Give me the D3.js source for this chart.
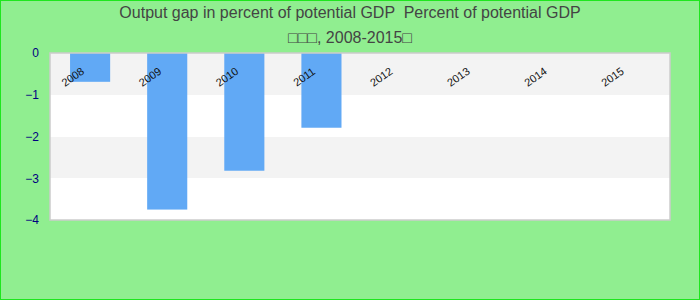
<!DOCTYPE html>
<html>
<head>
<meta charset="utf-8">
<script src="https://cdn.jsdelivr.net/npm/d3@7"></script>
<style>
  body { margin: 0; }
  svg { display: block; }
</style>
</head>
<body>
<div id="chart"></div>
<script>
// data
let years = ["2008", "2009", "2010", "2011", "2012", "2013", "2014", "2015"];
let gap = [-0.69, -3.75, -2.82, -1.79, null, null, null, null];
let yTicks = [0, -1, -2, -3, -4];
let title1 = "Output gap in percent of potential GDP  Percent of potential GDP";
let title2 = "\u25A1\u25A1\u25A1, 2008-2015\u25A1";

let W = 700, H = 300;
let margin = {top: 53, right: 30, bottom: 80, left: 50},
    width = W - margin.left - margin.right,
    height = H - margin.top - margin.bottom;

let root = d3.select("#chart")
  .append("svg")
  .attr("width", W)
  .attr("height", H);

// background + outer border
root.append("rect")
  .attr("x", 0.5).attr("y", 0.5)
  .attr("width", W - 1).attr("height", H - 1)
  .attr("fill", "#90ee90")
  .attr("stroke", "#1ee61e")
  .attr("stroke-width", 1);

// titles (keep the double space)
root.append("text")
  .attr("x", W / 2).attr("y", 18)
  .attr("text-anchor", "middle")
  .style("white-space", "pre")
  .style("font", "16px 'Liberation Sans', Arial, sans-serif")
  .style("fill", "#444")
  .text(title1);
root.append("text")
  .attr("x", W / 2).attr("y", 43)
  .attr("text-anchor", "middle")
  .style("font", "16px 'Liberation Sans', Arial, sans-serif")
  .style("fill", "#444")
  .text(title2);

let svg = root.append("g")
  .attr("transform", "translate(" + margin.left + "," + margin.top + ")");

let x = d3.scaleBand()
  .domain(years)
  .range([0, width])
  .paddingInner(0.48)
  .paddingOuter(0.26);

let y = d3.scaleLinear()
  .domain([0, -4])
  .range([0, height]);

// alternating bands
let bands = d3.range(yTicks.length - 1);
svg.selectAll(".band")
  .data(bands)
  .enter()
  .append("rect")
  .attr("class", "band")
  .attr("x", 0)
  .attr("y", i => Math.round(y(yTicks[i])))
  .attr("width", width)
  .attr("height", i => Math.round(y(yTicks[i + 1])) - Math.round(y(yTicks[i])))
  .attr("fill", i => i % 2 == 0 ? "#f3f3f3" : "#ffffff")
  .attr("shape-rendering", "crispEdges");

// bars
svg.selectAll(".bar")
  .data(years.map((d, i) => ({year: d, v: gap[i]})).filter(d => d.v != null))
  .enter()
  .append("rect")
  .attr("class", "bar")
  .attr("x", d => x(d.year))
  .attr("y", y(0))
  .attr("width", x.bandwidth())
  .attr("height", d => y(d.v) - y(0))
  .attr("fill", "#61a9f5");

// plot border
svg.append("rect")
  .attr("x", 0).attr("y", 0)
  .attr("width", width).attr("height", height)
  .attr("fill", "none")
  .attr("stroke", "#cccccc")
  .attr("stroke-width", 1.5);

// y axis
let yAxis = svg.append("g")
  .call(d3.axisLeft(y).tickValues(yTicks).tickSize(0).tickPadding(11).tickFormat(d3.format("d")));
yAxis.select(".domain").remove();
yAxis.selectAll("text")
  .style("font", "12px 'Liberation Sans', Arial, sans-serif")
  .attr("fill", "#000080");

// x labels, rotated, sitting inside the top of the plot
svg.selectAll(".xlab")
  .data(years)
  .enter()
  .append("text")
  .attr("class", "xlab")
  .attr("transform", d => "translate(" + (x(d) + 5) + ",27) rotate(-35)")
  .attr("text-anchor", "middle")
  .style("font", "11px 'Liberation Sans', Arial, sans-serif")
  .style("fill", "#111")
  .text(d => d);
</script>
</body>
</html>
